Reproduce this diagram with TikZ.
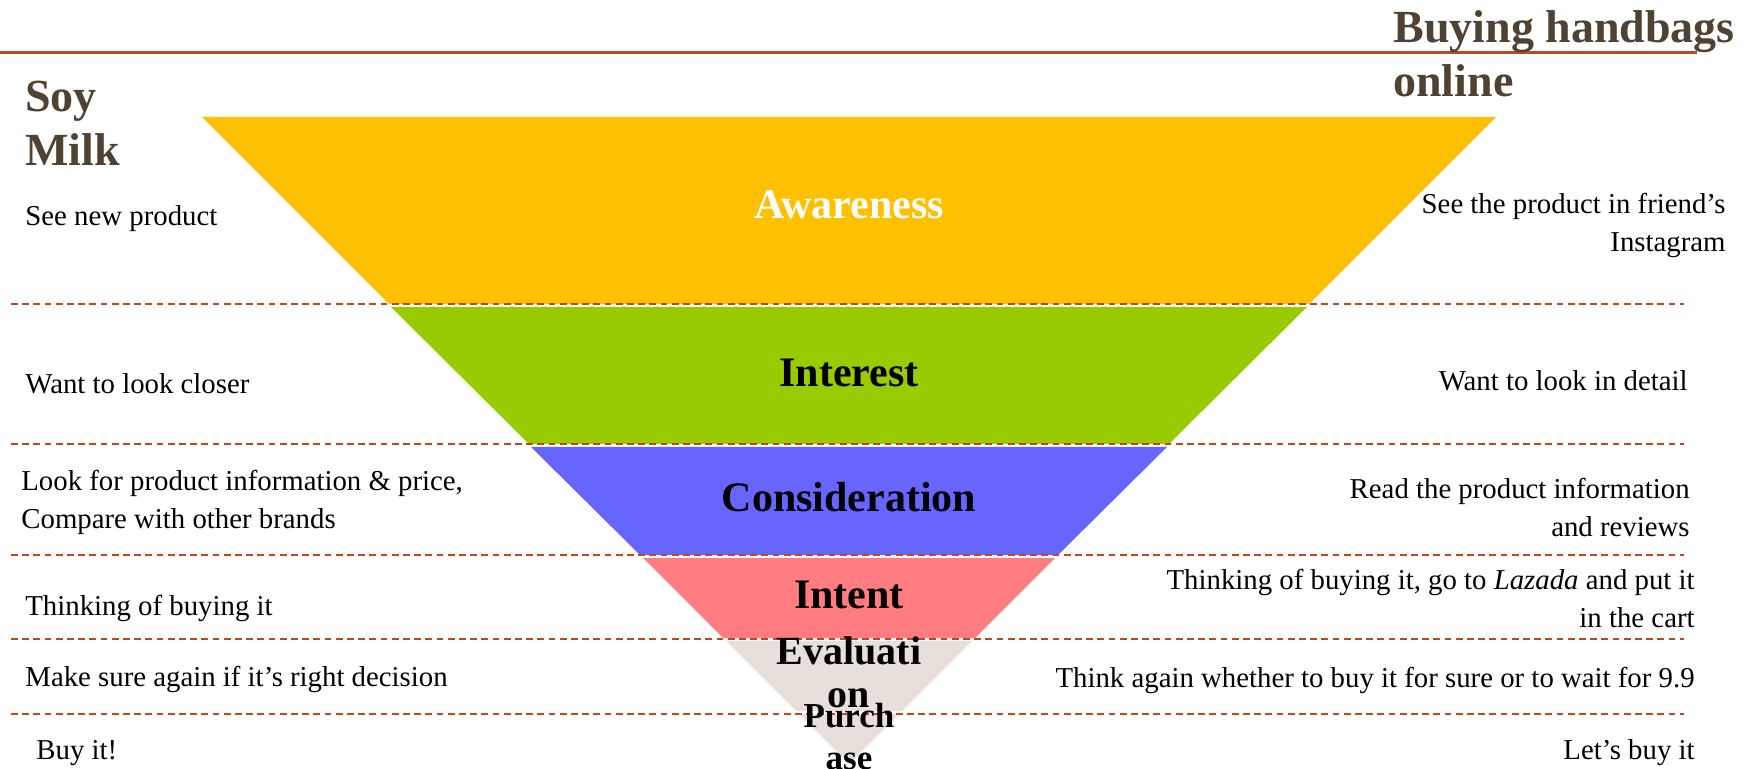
\documentclass[tikz,border=0pt]{standalone}
\usepackage{fontspec}
\setmainfont{Liberation Serif}
\definecolor{rule}{HTML}{B84A26}
\definecolor{dashc}{HTML}{C0461E}
\definecolor{titlec}{HTML}{4F4232}
\definecolor{cAw}{HTML}{FFC000}
\definecolor{cIn}{HTML}{99CC00}
\definecolor{cCo}{HTML}{6666FF}
\definecolor{cIt}{HTML}{FF7C80}
\definecolor{cEv}{HTML}{E8DFDB}
\tikzset{
  title/.style={inner sep=0pt, font=\fontsize{23}{27}\selectfont\bfseries, text=titlec, align=left},
  body/.style={inner sep=0pt, font=\fontsize{14.4}{19}\selectfont, text=black},
  lbl/.style={inner sep=0pt, font=\fontsize{21}{21}\selectfont\bfseries, text=black, align=center},
  sep/.style={draw=dashc, line width=1pt, dash pattern=on 3.4pt off 2.2pt},
}
\begin{document}
\begin{tikzpicture}[x=0.5pt,y=-0.5pt]
\useasboundingbox (0,0) rectangle (1760,769);
% funnel bands: half width = 764 - y, centre 849
\fill[cAw] (202,117) -- (1496,117) -- (1309,304) -- (389,304) -- cycle;
\fill[cIn] (391,307) -- (1307,307) -- (1169,444) -- (529,444) -- cycle;
\fill[cCo] (531,447) -- (1167,447) -- (1058,555) -- (640,555) -- cycle;
\fill[cIt] (643,558) -- (1055,558) -- (975,638) -- (723,638) -- cycle;
\fill[cEv] (726,641) -- (972,641) -- (902,711) -- (796,711) -- cycle;
\fill[cEv] (799,714) -- (899,714) -- (849,764) -- cycle;
% top rule
\coordinate (rA) at (0,53);
\coordinate (rB) at (1697,53);
\draw[rule, line width=1.5pt] (rA) -- (rB);
% dashed separators
\foreach \yy/\nm in {304/a,444.5/b,555/c,638.5/d,714/e}{
  \coordinate (L\nm) at (11,\yy);
  \coordinate (R\nm) at (1684,\yy);
  \draw[sep] (L\nm) -- (R\nm);
}
% titles (base = last line)
\node[title, anchor=base west] (soy) at (25,166) {Soy\\Milk};
\node[title, anchor=base west] (bag) at (1393,97) {Buying handbags\\online};
% funnel labels
\node[lbl, text=white] (aw) at (849,205) {Awareness};
\node[lbl] (in) at (849,373) {Interest};
\node[lbl] (co) at (849,497) {Consideration};
\node[lbl] (it) at (849,595) {Intent};
\node[lbl, font=\fontsize{20}{21.5}\selectfont\bfseries] (ev) at (849,672) {Evaluati\\on};
\node[lbl, font=\fontsize{17.5}{21}\selectfont\bfseries] (pu) at (849,737) {Purch\\ase};
% left texts
\node[body, anchor=west] (l1) at (25,219) {See new product};
\node[body, anchor=west] (l2) at (25,384) {Want to look closer};
\node[body, anchor=west, align=left] (l3) at (21,502) {Look for product information \& price,\\Compare with other brands};
\node[body, anchor=west] (l4) at (25,608) {Thinking of buying it};
\node[body, anchor=west] (l5) at (25,679) {Make sure again if it’s right decision};
\node[body, anchor=west] (l6) at (36,753) {Buy it!};
% right texts
\node[body, anchor=east, align=right] (r1) at (1726,225) {See the product in friend’s\\Instagram};
\node[body, anchor=east] (r2) at (1688,381) {Want to look in detail};
\node[body, anchor=east, align=right] (r3) at (1690,508) {Read the product information\\and reviews};
\node[body, anchor=east, align=right] (r4) at (1695,599) {Thinking of buying it, go to \textit{Lazada} and put it\\in the cart};
\node[body, anchor=east] (r5) at (1695,680) {Think again whether to buy it for sure or to wait for 9.9};
\node[body, anchor=east] (r6) at (1695,753) {Let’s buy it};
\end{tikzpicture}
\end{document}
